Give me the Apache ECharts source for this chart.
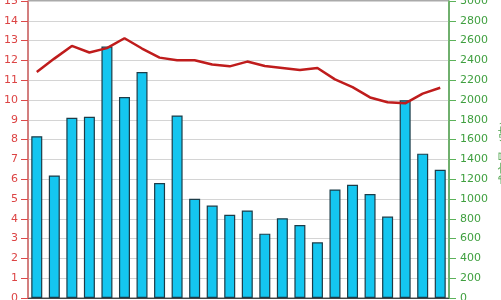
<!DOCTYPE html>
<html>
<head>
<meta charset="utf-8">
<script src="https://cdn.jsdelivr.net/npm/echarts@6/dist/echarts.min.js"></script>
<style>html,body{margin:0;padding:0;background:#fff;}#c{width:501px;height:300px;}</style>
</head>
<body>
<div id="c"></div>
<script>
var categories = ['1','2','3','4','5','6','7','8','9','10','11','12','13','14','15','16','17','18','19','20','21','22','23','24'];
var barValues = [8.17, 6.19, 9.1, 9.15, 12.7, 10.15, 11.41, 5.81, 9.22, 5.01, 4.67, 4.2, 4.42, 3.25, 4.03, 3.69, 2.81, 5.48, 5.72, 5.25, 4.11, 9.99, 7.29, 6.48];
var lineValues = [11.42, 12.09, 12.73, 12.4, 12.62, 13.12, 12.6, 12.14, 12.01, 12.01, 11.79, 11.7, 11.94, 11.72, 11.62, 11.52, 11.62, 11.04, 10.65, 10.13, 9.89, 9.83, 10.32, 10.62];
var rightName = '成交量（吨）';

var chart = echarts.init(document.getElementById('c'));
chart.setOption({
  animation: false,
  backgroundColor: '#fff',
  grid: { left: 28, right: 52, top: 1, bottom: 2, show: true, borderColor: '#555', borderWidth: 1,
    containLabel: false, outerBoundsMode: 'none' },
  xAxis: {
    type: 'category', data: categories,
    axisLabel: { show: false }, axisTick: { show: false },
    axisLine: { lineStyle: { color: '#444' } }
  },
  yAxis: [
    {
      type: 'value', min: 0, max: 15, interval: 1, position: 'left',
      axisLine: { show: true, lineStyle: { color: '#e07070', width: 1.5 } },
      axisTick: { show: true, length: 7, lineStyle: { color: '#dd4a4a' } },
      axisLabel: { color: '#dc4444', fontSize: 11, fontFamily: 'DejaVu Sans', margin: 10,
        formatter: function (v) { return String(v); } },
      splitLine: { show: true, lineStyle: { color: '#d4d4d4', width: 1 } }
    },
    {
      type: 'value', min: 0, max: 3000, interval: 200, position: 'right',
      name: rightName, nameLocation: 'middle', nameGap: 47,
      nameTextStyle: { color: '#4ca24a', fontSize: 12 },
      axisLine: { show: true, lineStyle: { color: '#5cb25a', width: 1.5 } },
      axisTick: { show: true, length: 7, lineStyle: { color: '#5cb25a' } },
      axisLabel: { color: '#3f9f3f', fontSize: 11, fontFamily: 'DejaVu Sans', margin: 11,
        formatter: function (v) { return String(v); } },
      splitLine: { show: false }
    }
  ],
  series: [
    {
      type: 'bar', data: barValues, yAxisIndex: 0, barWidth: 11,
      itemStyle: { color: '#14c6f0', borderColor: '#1c3c48', borderWidth: 1.2 }
    },
    {
      type: 'line', data: lineValues, yAxisIndex: 0, symbol: 'none',
      lineStyle: { color: '#bf1c1c', width: 2.5 }
    }
  ]
});
</script>
</body>
</html>
